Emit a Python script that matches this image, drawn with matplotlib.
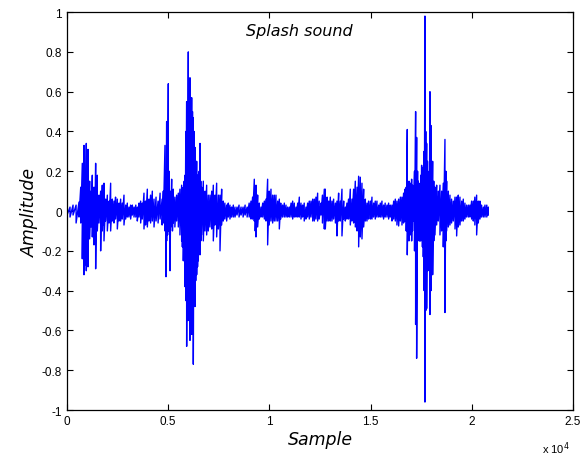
import numpy as np
import matplotlib.pyplot as plt

plt.rcParams['font.family'] = ['Liberation Sans', 'DejaVu Sans']

# waveform envelope: sample index, upper and lower amplitude
samples = np.array([
    1, 150, 300, 450, 593, 680, 757, 800, 840, 900, 955, 1000, 1037, 1080, 1120, 1190,
    1252, 1290, 1334, 1380, 1416, 1460, 1498, 1580, 1663, 1700, 1745, 1790, 1828, 1910,
    1993, 2080, 2157, 2240, 2322, 2400, 2487, 2570, 2651, 2730, 2816, 2900, 2980, 3060,
    3145, 3230, 3310, 3400, 3475, 3560, 3640, 3720, 3804, 3880, 3969, 4050, 4130, 4216,
    4300, 4400, 4500, 4600, 4700, 4760, 4841, 4891, 4924, 4970, 5006, 5050, 5088, 5130,
    5171, 5210, 5253, 5330, 5418, 5500, 5580, 5665, 5700, 5747, 5790, 5830, 5870, 5912,
    5950, 5994, 6030, 6076, 6120, 6159, 6200, 6241, 6280, 6323, 6360, 6406, 6450, 6488,
    6530, 6570, 6610, 6650, 6735, 6820, 6900, 6980, 7064, 7150, 7229, 7310, 7394, 7480,
    7559, 7641, 7720, 7800, 7888, 7970, 8050, 8130, 8217, 8300, 8400, 8500, 8600, 8700,
    8800, 8900, 9000, 9090, 9170, 9254, 9300, 9337, 9380, 9419, 9500, 9584, 9670, 9750,
    9830, 9913, 9990, 10078, 10160, 10242, 10325, 10410, 10490, 10560, 10650, 10737,
    10820, 10900, 10984, 11070, 11150, 11230, 11313, 11400, 11478, 11560, 11640, 11720,
    11807, 11890, 11970, 12054, 12140, 12219, 12300, 12383, 12460, 12548, 12620, 12713,
    12762, 12850, 12930, 13009, 13090, 13173, 13260, 13338, 13420, 13500, 13585, 13670,
    13750, 13830, 13910, 13997, 14080, 14161, 14244, 14330, 14409, 14491, 14573, 14656,
    14740, 14820, 14900, 14990, 15067, 15150, 15230, 15314, 15400, 15480, 15561, 15640,
    15720, 15808, 15890, 15970, 16055, 16140, 16220, 16300, 16385, 16470, 16549, 16630,
    16697, 16760, 16812, 16850, 16895, 16960, 17027, 17070, 17109, 17170, 17224, 17274,
    17320, 17356, 17400, 17439, 17480, 17521, 17560, 17603, 17645, 17685, 17725, 17768,
    17810, 17850, 17890, 17932, 17982, 18020, 18064, 18120, 18180, 18262, 18344, 18426,
    18510, 18591, 18673, 18720, 18756, 18840, 18920, 19000, 19085, 19170, 19250, 19332,
    19414, 19500, 19579, 19660, 19744, 19830, 19908, 19990, 20073, 20150, 20238, 20320,
    20402, 20480, 20567, 20650, 20740, 20814,
])

upper = np.array([
    0.02, 0.02, 0.03, 0.03, 0.045, 0.12, 0.24, 0.18, 0.33, 0.20, 0.34, 0.22, 0.31, 0.12, 0.15, 0.10,
    0.18, 0.08, 0.12, 0.10, 0.24, 0.12, 0.18, 0.08, 0.10, 0.06, 0.13, 0.06, 0.14, 0.06,
    0.08, 0.05, 0.14, 0.06, 0.05, 0.07, 0.06, 0.04, 0.06, 0.04, 0.08, 0.03, 0.04, 0.02,
    0.03, 0.03, 0.02, 0.03, 0.02, 0.04, 0.05, 0.04, 0.09, 0.05, 0.11, 0.06, 0.08, 0.10,
    0.06, 0.07, 0.05, 0.09, 0.06, 0.10, 0.33, 0.20, 0.45, 0.30, 0.64, 0.20, 0.08, 0.10,
    0.16, 0.08, 0.11, 0.07, 0.08, 0.09, 0.11, 0.13, 0.10, 0.12, 0.15, 0.18, 0.40, 0.55,
    0.50, 0.80, 0.55, 0.67, 0.55, 0.57, 0.50, 0.47, 0.40, 0.32, 0.25, 0.25, 0.18, 0.18,
    0.20, 0.34, 0.15, 0.12, 0.15, 0.10, 0.13, 0.08, 0.08, 0.10, 0.13, 0.08, 0.14, 0.08,
    0.08, 0.11, 0.05, 0.04, 0.03, 0.04, 0.03, 0.02, 0.03, 0.02, 0.02, 0.03, 0.02, 0.02,
    0.03, 0.02, 0.04, 0.05, 0.07, 0.16, 0.12, 0.13, 0.08, 0.08, 0.04, 0.02, 0.04, 0.05,
    0.06, 0.16, 0.10, 0.11, 0.08, 0.08, 0.08, 0.05, 0.06, 0.04, 0.03, 0.04,
    0.03, 0.02, 0.02, 0.04, 0.05, 0.04, 0.02, 0.04, 0.07, 0.04, 0.03, 0.04,
    0.02, 0.04, 0.05, 0.05, 0.06, 0.06, 0.07, 0.09, 0.05, 0.04, 0.08, 0.11,
    0.11, 0.07, 0.05, 0.07, 0.05, 0.06, 0.04, 0.05, 0.09, 0.05, 0.11, 0.05,
    0.02, 0.04, 0.06, 0.11, 0.06, 0.11, 0.15, 0.12, 0.175, 0.17, 0.14, 0.11,
    0.06, 0.04, 0.05, 0.05, 0.07, 0.04, 0.05, 0.05, 0.03, 0.04, 0.05, 0.03,
    0.04, 0.03, 0.04, 0.03, 0.03, 0.05, 0.06, 0.05, 0.06, 0.07, 0.07, 0.09,
    0.11, 0.12, 0.41, 0.10, 0.15, 0.14, 0.16, 0.13, 0.12, 0.20, 0.50, 0.37,
    0.20, 0.15, 0.13, 0.14, 0.18, 0.23, 0.20, 0.22, 0.30, 0.98, 0.40, 0.34,
    0.25, 0.15, 0.20, 0.60, 0.43, 0.20, 0.25, 0.15, 0.12, 0.13, 0.10, 0.13,
    0.10, 0.14, 0.36, 0.20, 0.15, 0.10, 0.08, 0.06, 0.05, 0.07, 0.07, 0.08,
    0.07, 0.05, 0.06, 0.04, 0.03, 0.03, 0.03, 0.05, 0.05, 0.07, 0.08, 0.05,
    0.05, 0.03, 0.02, 0.03, 0.03, 0.02,
])

lower = np.array([
    -0.02, -0.03, -0.02, -0.06, -0.03, -0.06, -0.24, -0.20, -0.32, -0.27, -0.30, -0.18, -0.28, -0.10, -0.14, -0.08,
    -0.13, -0.06, -0.17, -0.08, -0.29, -0.10, -0.10, -0.06, -0.20, -0.08, -0.10, -0.07, -0.15, -0.05,
    -0.10, -0.06, -0.10, -0.05, -0.06, -0.04, -0.09, -0.05, -0.05, -0.04, -0.07, -0.04, -0.03, -0.03,
    -0.04, -0.02, -0.03, -0.03, -0.05, -0.03, -0.06, -0.04, -0.09, -0.07, -0.08, -0.05, -0.06, -0.05,
    -0.08, -0.05, -0.06, -0.04, -0.07, -0.06, -0.10, -0.33, -0.15, -0.12, -0.10, -0.08, -0.30, -0.08,
    -0.07, -0.10, -0.06, -0.08, -0.05, -0.08, -0.12, -0.15, -0.18, -0.25, -0.20, -0.38, -0.45, -0.68,
    -0.55, -0.55, -0.50, -0.65, -0.52, -0.62, -0.55, -0.77, -0.45, -0.48, -0.35, -0.32, -0.28, -0.25,
    -0.20, -0.22, -0.15, -0.12, -0.15, -0.10, -0.12, -0.10, -0.08, -0.09, -0.15, -0.07, -0.13, -0.09,
    -0.20, -0.07, -0.05, -0.04, -0.05, -0.03, -0.04, -0.03, -0.03, -0.03, -0.02, -0.03, -0.02, -0.03,
    -0.02, -0.03, -0.03, -0.04, -0.04, -0.05, -0.10, -0.13, -0.06, -0.08, -0.04, -0.03, -0.03, -0.04,
    -0.05, -0.17, -0.07, -0.05, -0.06, -0.05, -0.05, -0.05, -0.09, -0.04, -0.03, -0.03,
    -0.03, -0.03, -0.03, -0.03, -0.04, -0.03, -0.03, -0.03, -0.03, -0.04, -0.03, -0.05,
    -0.04, -0.03, -0.04, -0.03, -0.05, -0.05, -0.04, -0.05, -0.04, -0.02, -0.06, -0.09,
    -0.09, -0.05, -0.05, -0.05, -0.05, -0.04, -0.06, -0.125, -0.05, -0.05, -0.125, -0.04,
    -0.05, -0.04, -0.04, -0.07, -0.05, -0.06, -0.08, -0.10, -0.18, -0.13, -0.14, -0.08,
    -0.05, -0.05, -0.04, -0.04, -0.04, -0.03, -0.04, -0.03, -0.03, -0.03, -0.03, -0.04,
    -0.03, -0.03, -0.04, -0.03, -0.05, -0.04, -0.05, -0.07, -0.075, -0.05, -0.07, -0.06,
    -0.05, -0.10, -0.22, -0.10, -0.15, -0.12, -0.15, -0.10, -0.05, -0.20, -0.57, -0.74,
    -0.15, -0.12, -0.15, -0.15, -0.15, -0.13, -0.18, -0.23, -0.40, -0.96, -0.50, -0.49,
    -0.30, -0.25, -0.30, -0.52, -0.40, -0.25, -0.32, -0.15, -0.12, -0.07, -0.05, -0.12,
    -0.10, -0.18, -0.51, -0.15, -0.10, -0.08, -0.07, -0.06, -0.05, -0.09, -0.125, -0.08,
    -0.07, -0.05, -0.05, -0.04, -0.03, -0.03, -0.03, -0.04, -0.05, -0.07, -0.12, -0.06,
    -0.04, -0.03, -0.03, -0.03, -0.03, -0.02,
])

xticks = [0, 5000, 10000, 15000, 20000, 25000]
yticks = [-1, -0.8, -0.6, -0.4, -0.2, 0, 0.2, 0.4, 0.6, 0.8, 1]

# trace goes up to the upper value and down to the lower value at each sample
wave_x = np.repeat(samples, 2)
wave_y = np.column_stack([upper, lower]).ravel()

fig = plt.figure(figsize=(5.84, 4.6), dpi=100)
ax = fig.add_axes([0.1147, 0.1065, 0.8665, 0.865])

ax.plot(wave_x, wave_y, color='blue', lw=1.0)

ax.set_xlim(0, 25000)
ax.set_ylim(-1, 1)
ax.set_xticks(xticks)
ax.set_xticklabels([f"{t / 1e4:g}" for t in xticks])
ax.set_yticks(yticks)
ax.set_yticklabels([f"{t:g}" for t in yticks])
ax.tick_params(direction='in', top=True, right=True, labelsize=8.5, length=4, width=0.8)
for s in ax.spines.values():
    s.set_linewidth(0.9)

ax.text(0.46, 0.955, "Splash sound", transform=ax.transAxes, ha='center', va='center',
        style='italic', fontsize=11.5, family='DejaVu Sans')
ax.set_xlabel("Sample", style='italic', fontsize=12.5, family='DejaVu Sans', labelpad=2)
ax.set_ylabel("Amplitude", style='italic', fontsize=12.5, family='DejaVu Sans', labelpad=2)
fig.text(0.952, 0.006, "x 10$^4$", fontsize=8, ha='center', va='bottom')

fig.savefig("out.png", dpi=100)
